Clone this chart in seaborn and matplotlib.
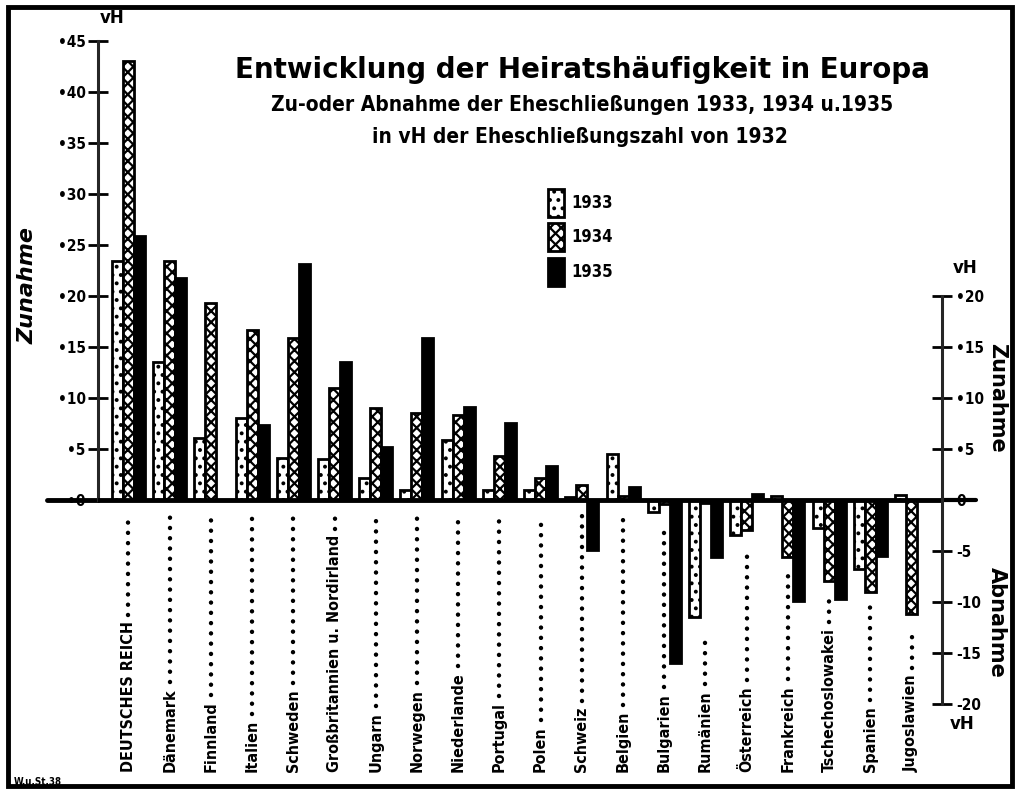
import numpy as np
import pandas as pd
import matplotlib.pyplot as plt
import matplotlib.transforms as mtransforms
from matplotlib.patches import Patch, Rectangle
import seaborn as sns

# data (vH change against 1932)
countries = ["DEUTSCHES REICH", "Dänemark", "Finnland", "Italien", "Schweden",
             "Großbritannien u. Nordirland", "Ungarn", "Norwegen", "Niederlande",
             "Portugal", "Polen", "Schweiz", "Belgien", "Bulgarien", "Rumänien",
             "Österreich", "Frankreich", "Tschechoslowakei", "Spanien", "Jugoslawien"]
years = ["1933", "1934", "1935"]
v1933 = [23.4, 13.5, 6.1, 8.0, 4.1, 4.0, 2.2, 1.0, 5.9, 1.0,
         1.0, 0.3, 4.5, -1.2, -11.5, -3.4, 0.4, -2.7, -6.8, 0.5]
v1934 = [43.0, 23.4, 19.3, 16.7, 15.9, 11.0, 9.0, 8.5, 8.3, 4.3,
         2.2, 1.5, 0.4, -0.4, -0.3, -2.9, -5.6, -7.9, -9.0, -11.2]
v1935 = [25.9, 21.8, np.nan, 7.4, 23.1, 13.5, 5.2, 15.9, 9.1, 7.5,
         3.3, -4.9, 1.3, -16.0, -5.6, 0.6, -9.9, -9.7, -5.5, np.nan]

df = pd.DataFrame({"land": countries * 3,
                   "jahr": [y for y in years for _ in countries],
                   "wert": v1933 + v1934 + v1935})

sns.set_style("white")
plt.rcParams['font.family'] = ['DejaVu Sans']
plt.rcParams['hatch.linewidth'] = 1.6
for k in ["text.color", "axes.labelcolor", "xtick.color", "ytick.color"]:
    plt.rcParams[k] = "black"

fig = plt.figure(figsize=(10.22, 8.05), dpi=100)
ax = fig.add_axes([98/1022, 1-704/805, 844/1022, 663/805])

sns.barplot(data=df, x="land", y="wert", hue="jahr", order=countries,
            hue_order=years, palette=["white", "white", "black"],
            edgecolor="black", linewidth=2, width=0.8, errorbar=None,
            legend=False, ax=ax)
for cont, h in zip(ax.containers, ["..", "xxx", None]):
    for p in cont:
        p.set_hatch(h)

ax.set_xlim(-0.74, len(countries) - 0.26)
ax.set_ylim(-20, 45)
ax.axhline(0, color="black", lw=3.5, zorder=5)
ax.plot([-0.06, 0], [0, 0], transform=ax.get_yaxis_transform(), color="black",
        lw=3.5, clip_on=False)
ax.plot([1, 1.04], [0, 0], transform=ax.get_yaxis_transform(), color="black",
        lw=3, clip_on=False)

# left axis: Zunahme 0..45
for s in ["top", "bottom"]:
    ax.spines[s].set_visible(False)
ax.spines["left"].set_bounds(0, 45)
ax.spines["left"].set_linewidth(2.2)
ax.spines["right"].set_visible(False)
ax.set_xticks([])
ax.set_xlabel("")
ax.set_ylabel("")
ax.set_yticks(range(0, 50, 5))
ax.set_yticklabels(["•" + str(v) for v in range(0, 50, 5)], fontsize=11,
                   fontweight="bold", fontstretch="condensed")
ax.tick_params(axis="y", direction="inout", length=14, width=2, pad=2)

# right axis: -20..20
ax2 = ax.twinx()
ax2.set_ylim(ax.get_ylim())
for s in ["top", "bottom", "left"]:
    ax2.spines[s].set_visible(False)
ax2.spines["right"].set_bounds(-20, 20)
ax2.spines["right"].set_linewidth(2.2)
rticks = list(range(-20, 25, 5))
ax2.set_yticks(rticks)
ax2.set_yticklabels([("•" if v > 0 else "") + str(v) for v in rticks], fontsize=11,
                    fontweight="bold", fontstretch="condensed")
ax2.tick_params(axis="y", direction="inout", length=14, width=2, pad=3)

# country names with dotted leaders
trans = mtransforms.blended_transform_factory(ax.transData, fig.transFigure)
labels = []
for i, name in enumerate(countries):
    t = ax.text(i, 1 - 772/805, name, rotation=90, ha="center", va="bottom",
                fontsize=11.5, fontweight="bold", fontstretch="condensed",
                transform=trans)
    labels.append(t)
fig.canvas.draw()
inv = ax.transData.inverted()
for i, t in enumerate(labels):
    top = inv.transform((0, t.get_window_extent().y1))[1]
    end = min(0, v1933[i], v1934[i]) - 1.5
    ax.plot([i, i], [top + 0.6, end], color="black", lw=3.2,
            linestyle=(0, (0.01, 2.3)), dash_capstyle="round", clip_on=False)

# legend
handles = [Patch(facecolor="white", edgecolor="black", hatch="..", lw=2),
           Patch(facecolor="white", edgecolor="black", hatch="xxx", lw=2),
           Patch(facecolor="black", edgecolor="black", lw=2)]
leg = ax.legend(handles, years, loc="upper left", bbox_to_anchor=(0.515, 0.80),
                frameon=False, handlelength=1.0, handleheight=2.2,
                labelspacing=0.4, handletextpad=0.4,
                prop={"weight": "bold", "size": 12, "stretch": "condensed"})

# titles and axis words
fig.text(0.570, 1 - 70/805, "Entwicklung der Heiratshäufigkeit in Europa",
         ha="center", va="center", fontsize=20, fontweight="bold")
fig.text(0.570, 1 - 105/805, "Zu-oder Abnahme der Eheschließungen 1933, 1934 u.1935",
         ha="center", va="center", fontsize=15, fontweight="bold", fontstretch="condensed")
fig.text(0.567, 1 - 137/805, "in vH der Eheschließungszahl von 1932",
         ha="center", va="center", fontsize=15, fontweight="bold", fontstretch="condensed")
fig.text(112/1022, 1 - 18/805, "vH", ha="center", va="center", fontsize=12, fontweight="bold")
fig.text(965/1022, 1 - 268/805, "vH", ha="center", va="center", fontsize=12, fontweight="bold")
fig.text(962/1022, 1 - 724/805, "vH", ha="center", va="center", fontsize=12, fontweight="bold")
fig.text(28/1022, 1 - 285/805, "Zunahme", rotation=90, ha="center", va="center",
         fontsize=16, fontweight="bold", fontstyle="italic")
fig.text(997/1022, 1 - 398/805, "Zunahme", rotation=-90, ha="center", va="center",
         fontsize=15, fontweight="bold")
fig.text(997/1022, 1 - 622/805, "Abnahme", rotation=-90, ha="center", va="center",
         fontsize=15, fontweight="bold")
fig.text(14/1022, 1 - 782/805, "W.u.St.38", ha="left", va="center", fontsize=7,
         fontweight="bold", fontstretch="condensed")

fig.add_artist(Rectangle((8/1022, 1 - 786/805), 1004/1022, 779/805,
                         transform=fig.transFigure, fill=False, lw=3.5, color="black"))

fig.savefig("out.png", dpi=100)
